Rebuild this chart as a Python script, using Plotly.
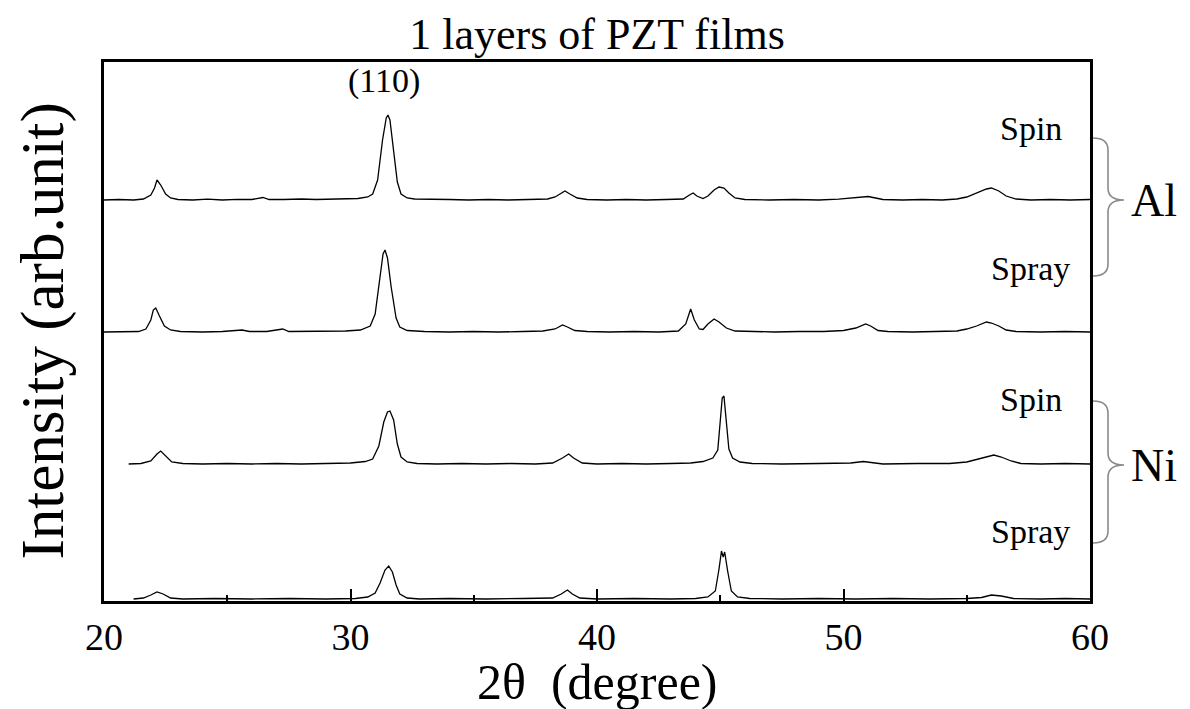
import plotly.graph_objects as go

# ---------------- data ----------------
# intensity above each pattern's own baseline (arb. units), 2-theta in degrees
al_spin_x = [20.0, 20.6, 21.2, 21.6, 21.9, 22.05, 22.15, 22.3, 22.5, 22.7, 23.0, 23.6, 24.2, 24.8, 25.4, 26.0, 26.45, 26.7,
             27.3, 28.0, 28.6, 29.2, 29.8, 30.3, 30.7, 30.9, 31.1, 31.3, 31.45, 31.52, 31.6, 31.75, 31.9, 32.05, 32.3, 32.6,
             33.2, 34.0, 34.8, 35.6, 36.4, 37.2, 38.0, 38.3, 38.55, 38.7, 38.9, 39.2, 39.6, 40.4, 41.2, 42.0, 42.8, 43.5,
             43.75, 43.9, 44.05, 44.3, 44.5, 44.75, 44.95, 45.15, 45.35, 45.6, 46.0, 47.0, 48.0, 49.0, 49.8, 50.3, 50.7,
             51.0, 51.3, 51.6, 52.4, 53.2, 54.0, 54.6, 55.0, 55.4, 55.8, 56.0, 56.3, 56.6, 57.0, 57.6, 58.4, 59.2, 60.0]
al_spin_y = [0, 0.5, 0, 1, 5, 12, 20, 15, 6, 2, 0.5, 0, 0.8, 0, 0.6, 0.5, 2.5, 0.5,
             0.5, 1, 0.5, 1, 1, 1.5, 3, 6, 20, 60, 82, 85, 80, 50, 18, 6, 2, 1,
             0.5, 0.5, 0, 0.5, 0, 0.5, 1, 3, 7, 9, 6, 2, 0.5, 0, 0.5, 0, 0.5, 1,
             5, 7, 4, 1.5, 4, 10, 13, 12, 7, 2, 0.5, 0, 0.5, 0, 0.8, 2, 3,
             3.5, 2, 0.5, 0, 0.5, 0, 1, 3, 7, 11, 12, 9, 4, 1, 0, 0.5, 0, 0.5]

al_spray_x = [20.0, 20.8, 21.4, 21.7, 21.9, 22.0, 22.1, 22.25, 22.45, 22.7, 23.1, 24.0, 24.8, 25.6, 25.9, 26.6, 27.25, 27.5,
              28.2, 29.0, 29.8, 30.4, 30.8, 31.0, 31.2, 31.32, 31.4, 31.5, 31.65, 31.85, 32.0, 32.3, 33.0, 34.0, 35.0,
              36.0, 37.0, 37.8, 38.3, 38.6, 38.8, 39.1, 39.6, 40.5, 41.5, 42.5, 43.3, 43.6, 43.8, 43.95, 44.15, 44.3,
              44.5, 44.75, 44.95, 45.25, 45.6, 46.2, 47.2, 48.2, 49.2, 50.0, 50.5, 50.9, 51.1, 51.4, 51.8, 52.8, 53.8,
              54.6, 55.0, 55.4, 55.8, 56.0, 56.3, 56.6, 57.0, 58.0, 59.0, 60.0]
al_spray_y = [0, 0.5, 0.5, 3, 12, 22, 24, 16, 6, 2, 0.5, 0, 0.5, 2, 0.5, 0.5, 3, 0.5,
              0.5, 1, 1, 2, 6, 18, 55, 78, 82, 74, 45, 14, 5, 1.5, 0.5, 0, 0.5,
              0, 0.5, 1, 3, 7, 5, 1.5, 0.5, 0, 0.5, 0, 1, 8, 23, 12, 3, 2.5,
              8, 13, 10, 4, 1, 0.5, 0, 0.5, 0.5, 1.5, 4, 8, 6, 1.5, 0.5, 0, 0.5,
              1, 3, 6, 10, 9, 6, 2, 0.5, 0, 0.5, 0]

ni_spin_x = [21.0, 21.5, 21.9, 22.15, 22.3, 22.5, 22.75, 23.2, 24.0, 25.0, 26.0, 27.0, 28.0, 29.0, 30.0, 30.6, 30.9,
             31.15, 31.35, 31.5, 31.6, 31.75, 31.9, 32.05, 32.3, 32.7, 33.5, 34.5, 35.5, 36.5, 37.5, 38.2, 38.6, 38.85,
             39.05, 39.4, 40.0, 41.0, 42.0, 43.0, 43.8, 44.3, 44.7, 44.9, 45.0, 45.08, 45.15, 45.25, 45.35, 45.5, 45.8,
             46.3, 47.5, 49.0, 50.3, 50.8, 51.1, 51.6, 53.0, 54.3, 55.0, 55.5, 55.9, 56.1, 56.4, 56.8, 57.2, 58.0, 59.0, 60.0]
ni_spin_y = [0, 0.5, 3, 10, 13, 8, 2, 0.5, 0, 0.5, 0, 0.5, 0, 0.5, 1, 2.5, 5,
             18, 42, 52, 53, 44, 20, 7, 2, 0.5, 0, 0.5, 0, 0.5, 0, 1, 6, 10,
             6, 1, 0, 0.5, 0, 0.5, 1, 2.5, 6, 14, 40, 66, 68, 45, 15, 6, 2,
             0.5, 0, 0.5, 1, 2.5, 1.5, 0, 0.5, 0.5, 2, 5, 8, 9, 7, 3, 0.5, 0, 0.5, 0]

ni_spray_x = [21.2, 21.6, 21.9, 22.15, 22.4, 22.7, 23.2, 24.5, 26.0, 27.5, 29.0, 30.2, 30.7, 31.0, 31.2, 31.4, 31.55,
              31.7, 31.85, 32.0, 32.3, 32.8, 34.0, 35.5, 37.0, 38.2, 38.55, 38.8, 39.0, 39.3, 40.0, 41.5, 43.0, 44.0,
              44.5, 44.8, 44.95, 45.05, 45.12, 45.18, 45.3, 45.45, 45.7, 46.2, 47.5, 49.0, 50.5, 52.0, 53.5, 55.0,
              55.6, 56.0, 56.4, 56.9, 58.0, 59.0, 60.0]
ni_spray_y = [0, 1, 4, 7, 5, 1, 0, 0.5, 0, 0.5, 0, 0.5, 2, 6, 16, 29, 33,
              27, 14, 5, 1, 0, 0.5, 0, 0.5, 1, 5, 9, 5, 1, 0, 0.5, 0, 0.5,
              2, 8, 30, 48, 42, 47, 28, 8, 2, 0.5, 0, 0.5, 0, 0.5, 0, 0.5,
              1.5, 4, 3, 0.5, 0, 0.5, 0]

series_names = ["Al Spin", "Al Spray", "Ni Spin", "Ni Spray"]
series_offsets = [401, 269, 137, 2]          # vertical stacking of the patterns
series_x = [al_spin_x, al_spray_x, ni_spin_x, ni_spray_x]
series_y = [al_spin_y, al_spray_y, ni_spin_y, ni_spray_y]
method_labels = ["Spin", "Spray", "Spin", "Spray"]
substrate_labels = ["Al", "Ni"]
x_ticks = [20, 30, 40, 50, 60]

# ---------------- figure ----------------
SERIF = "Liberation Serif, Times New Roman, serif"
fig = go.Figure()
for name, off, xs, ys in zip(series_names, series_offsets, series_x, series_y):
    fig.add_trace(go.Scatter(x=xs, y=[v + off for v in ys], mode="lines", name=name,
                             line=dict(color="black", width=1.3), showlegend=False))

W, H = 1190, 709
L, R, T, B = 96, 108, 54, 116
pw, ph = W - L - R, H - T - B

def px(xp):
    return (xp - L) / pw

def py(yp):
    return (H - B - yp) / ph

# method labels (Spin / Spray)
label_y = [473, 333, 202, 70]
for txt, yv in zip(method_labels, label_y):
    fig.add_annotation(x=57.6, y=yv, xref="x", yref="y", text=txt, showarrow=False,
                       font=dict(family=SERIF, size=34, color="black"), xanchor="center", yanchor="middle")

fig.add_annotation(x=31.35, y=520, xref="x", yref="y", text="(110)", showarrow=False,
                   font=dict(family=SERIF, size=34, color="black"), xanchor="center", yanchor="middle")

# braces and substrate labels
braces = [(130, 192, 268), (393, 457, 535)]
for (top, tip, bot), lab in zip(braces, substrate_labels):
    x0, xm, xt = px(1085), px(1100), px(1116)
    r = 12 / ph
    t, m, b = py(top), py(tip), py(bot)
    path = (f"M {x0},{t} Q {xm},{t} {xm},{t - r} L {xm},{m + r} Q {xm},{m} {xt},{m} "
            f"Q {xm},{m} {xm},{m - r} L {xm},{b + r} Q {xm},{b} {x0},{b}")
    fig.add_shape(type="path", path=path, xref="paper", yref="paper",
                  line=dict(color="#8a8a8a", width=1.6))
    fig.add_annotation(x=px(1146), y=m, xref="paper", yref="paper", text=lab, showarrow=False,
                       font=dict(family=SERIF, size=46, color="black"), xanchor="center", yanchor="middle")

# axis titles
fig.add_annotation(x=0.5, y=py(703), xref="paper", yref="paper", text="2θ  (degree)", showarrow=False,
                   font=dict(family=SERIF, size=50, color="black"), xanchor="center", yanchor="bottom",
                   borderpad=0)
fig.add_annotation(x=px(34), y=0.5, xref="paper", yref="paper", text="Intensity (arb.unit)", showarrow=False,
                   textangle=-90, font=dict(family=SERIF, size=61, color="black"),
                   xanchor="center", yanchor="middle", borderpad=0)

fig.update_layout(
    width=W, height=H, autosize=False,
    margin=dict(l=L, r=R, t=T, b=B),
    paper_bgcolor="white", plot_bgcolor="white",
    title=dict(text="1 layers of PZT films", x=0.5, xref="paper", xanchor="center",
               y=1 - 26 / H, yref="container", yanchor="middle",
               font=dict(family=SERIF, size=44, color="black")),
    font=dict(family=SERIF, color="black"),
)
fig.update_xaxes(range=[20, 60], tickvals=x_ticks, ticktext=[str(v) for v in x_ticks],
                 ticks="inside", ticklen=12, tickwidth=2, tickcolor="black",
                 minor=dict(ticks="inside", ticklen=6, tickwidth=2, dtick=5, tickcolor="black"),
                 showline=True, linecolor="black", linewidth=3, mirror=True,
                 showgrid=False, zeroline=False,
                 tickfont=dict(family=SERIF, size=38, color="black"))
fig.update_yaxes(range=[0, 539], showticklabels=False, ticks="",
                 showline=True, linecolor="black", linewidth=3, mirror=True,
                 showgrid=False, zeroline=False)

fig.write_html("out.html")
